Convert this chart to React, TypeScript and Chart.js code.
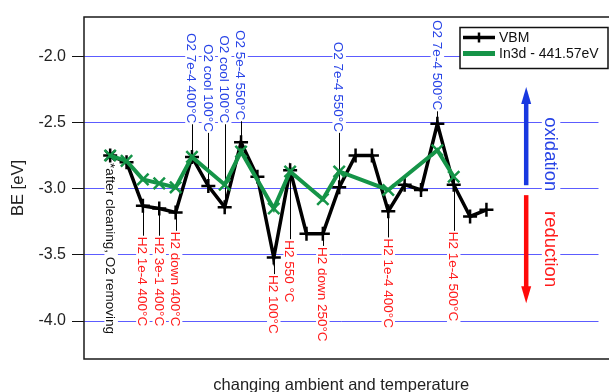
import React, { useEffect, useRef } from "react";
import { Chart, registerables } from "chart.js";

Chart.register(...registerables);

// ---- data ----
const stepIndex = [0, 1, 2, 3, 4, 5, 6, 7, 8, 9, 10, 11, 12, 13, 14, 15, 16, 17, 18, 19, 20, 21, 22, 23];
const vbmValues = [
  -2.75, -2.8, -3.13, -3.15, -3.18, -2.76, -2.98, -3.14, -2.65, -2.91, -3.52, -2.86,
  -3.34, -3.34, -2.99, -2.75, -2.75, -3.17, -2.97, -3.01, -2.51, -2.97, -3.21, -3.16,
];
const in3dValues: (number | null)[] = [
  -2.75, -2.79, -2.93, -2.96, -2.99, -2.76, null, -2.97, -2.72, null, -3.15, -2.87,
  null, -3.08, -2.87, null, null, -3.01, null, null, -2.71, -2.91, null, null,
];
const yTicks = [-2.0, -2.5, -3.0, -3.5, -4.0];
const seriesLabels = ["VBM", "In3d - 441.57eV"];
const xTitle = "changing ambient and temperature";
const yTitle = "BE [eV]";

// oxidation steps (labels above), anchor = BE where text ends
const o2Steps = [
  { idx: 5, text: "O2 7e-4 400°C", end: -2.506 },
  { idx: 6, text: "O2 cool 100°C", end: -2.571 },
  { idx: 7, text: "O2 cool 100°C", end: -2.506 },
  { idx: 8, text: "O2 5e-4 550°C", end: -2.483 },
  { idx: 14, text: "O2 7e-4 550°C", end: -2.571 },
  { idx: 20, text: "O2 7e-4 500°C", end: -2.408 },
];
// reduction steps (labels below), anchor = BE where text starts
const h2Steps = [
  { idx: 2, text: "H2 1e-4 400°C", start: -3.363 },
  { idx: 3, text: "H2 3e-1 400°C", start: -3.363 },
  { idx: 4, text: "H2 down 400°C", start: -3.326 },
  { idx: 10, text: "H2 100°C", start: -3.653 },
  { idx: 11, text: "H2 550 °C", start: -3.389 },
  { idx: 13, text: "H2 down 250°C", start: -3.44 },
  { idx: 17, text: "H2 1e-4 400°C", start: -3.376 },
  { idx: 21, text: "H2 1e-4 500°C", start: -3.326 },
];
const firstNote = { idx: 0, text: "*after cleaning, O2 removing", start: -2.806 };
const oxArrow = { x: 25.43, from: -2.974, to: -2.231, text: "oxidation", textX: 26.95, textY: -2.74 };
const redArrow = { x: 25.43, from: -3.049, to: -3.866, text: "reduction", textX: 26.95, textY: -3.457 };

const FONT = "'Liberation Sans', Arial, sans-serif";
const BLUE_TXT = "#2743e6";
const RED_TXT = "#ff1a1a";
const GREEN = "#159448";

function vtext(ctx: CanvasRenderingContext2D, text: string, x: number, y: number, align: "start" | "end" | "center", color: string, size: number, bg = true) {
  ctx.save();
  ctx.font = `${size}px ${FONT}`;
  const w = ctx.measureText(text).width;
  ctx.translate(x, y);
  ctx.rotate(Math.PI / 2);
  const x0 = align === "start" ? 0 : align === "end" ? -w : -w / 2;
  if (bg) {
    ctx.fillStyle = "#fff";
    ctx.fillRect(x0 - 1, -size / 2, w + 2, size);
  }
  ctx.fillStyle = color;
  ctx.textAlign = "left";
  ctx.textBaseline = "middle";
  ctx.fillText(text, x0, 1);
  ctx.restore();
}

function arrow(ctx: CanvasRenderingContext2D, x: number, y0: number, y1: number, color: string) {
  const dir = y1 < y0 ? -1 : 1;
  const headLen = 17;
  const headW = 5;
  ctx.save();
  ctx.strokeStyle = color;
  ctx.fillStyle = color;
  ctx.lineWidth = 4.5;
  ctx.beginPath();
  ctx.moveTo(x, y0);
  ctx.lineTo(x, y1 - dir * headLen + dir * 2);
  ctx.stroke();
  ctx.beginPath();
  ctx.moveTo(x, y1);
  ctx.lineTo(x - headW, y1 - dir * headLen);
  ctx.lineTo(x + headW, y1 - dir * headLen);
  ctx.closePath();
  ctx.fill();
  ctx.restore();
}

const decorPlugin = {
  id: "decor",
  beforeDatasetsDraw(chart: any) {
    const { ctx, chartArea, scales } = chart;
    const xs = scales.x;
    const ys = scales.y;
    ctx.save();
    // frame (left, top, bottom)
    ctx.strokeStyle = "#1a1a1a";
    ctx.lineWidth = 1.5;
    ctx.beginPath();
    ctx.moveTo(chart.width, chartArea.top);
    ctx.lineTo(chartArea.left, chartArea.top);
    ctx.lineTo(chartArea.left, chartArea.bottom);
    ctx.lineTo(chart.width, chartArea.bottom);
    ctx.stroke();

    // connectors
    ctx.strokeStyle = "#000";
    ctx.lineWidth = 1;
    o2Steps.forEach((s) => {
      const px = Math.round(xs.getPixelForValue(stepIndex[s.idx])) + 0.5;
      ctx.beginPath();
      ctx.moveTo(px, ys.getPixelForValue(s.end));
      ctx.lineTo(px, ys.getPixelForValue(vbmValues[s.idx]));
      ctx.stroke();
    });
    h2Steps.forEach((s) => {
      const px = Math.round(xs.getPixelForValue(stepIndex[s.idx])) + 0.5;
      ctx.beginPath();
      ctx.moveTo(px, ys.getPixelForValue(vbmValues[s.idx]));
      ctx.lineTo(px, ys.getPixelForValue(s.start));
      ctx.stroke();
    });
    // labels
    o2Steps.forEach((s) => {
      vtext(ctx, s.text, xs.getPixelForValue(stepIndex[s.idx]), ys.getPixelForValue(s.end), "end", BLUE_TXT, 13.5);
    });
    h2Steps.forEach((s) => {
      vtext(ctx, s.text, xs.getPixelForValue(stepIndex[s.idx]), ys.getPixelForValue(s.start), "start", RED_TXT, 13.5);
    });
    vtext(ctx, firstNote.text, xs.getPixelForValue(stepIndex[firstNote.idx]) + 1, ys.getPixelForValue(firstNote.start), "start", "#111", 13.5);

    // arrows
    arrow(ctx, xs.getPixelForValue(oxArrow.x), ys.getPixelForValue(oxArrow.from), ys.getPixelForValue(oxArrow.to), "#1838e0");
    arrow(ctx, xs.getPixelForValue(redArrow.x), ys.getPixelForValue(redArrow.from), ys.getPixelForValue(redArrow.to), "#ff0a0a");
    vtext(ctx, oxArrow.text, xs.getPixelForValue(oxArrow.textX), ys.getPixelForValue(oxArrow.textY), "center", BLUE_TXT, 18.5);
    vtext(ctx, redArrow.text, xs.getPixelForValue(redArrow.textX), ys.getPixelForValue(redArrow.textY), "center", RED_TXT, 18.5);

    // axis titles
    ctx.fillStyle = "#222";
    ctx.font = `16.5px ${FONT}`;
    ctx.textAlign = "center";
    ctx.textBaseline = "alphabetic";
    ctx.fillText(xTitle, (chartArea.left + chartArea.right) / 2, 390);
    ctx.save();
    ctx.translate(18, (chartArea.top + chartArea.bottom) / 2);
    ctx.rotate(-Math.PI / 2);
    ctx.textBaseline = "middle";
    ctx.fillText(yTitle, 0, 0);
    ctx.restore();
    ctx.restore();
  },
  afterDraw(chart: any) {
    const { ctx } = chart;
    ctx.save();
    const bx = 460, by = 27.5, bw = 148, bh = 41;
    ctx.fillStyle = "#fff";
    ctx.fillRect(bx, by, bw, bh);
    ctx.strokeStyle = "#111";
    ctx.lineWidth = 1.5;
    ctx.strokeRect(bx, by, bw, bh);
    // VBM sample
    const y1 = 37.5, y2 = 53.5;
    ctx.strokeStyle = "#000";
    ctx.lineWidth = 3.5;
    ctx.beginPath();
    ctx.moveTo(463, y1);
    ctx.lineTo(495, y1);
    ctx.stroke();
    ctx.lineWidth = 2.5;
    ctx.beginPath();
    ctx.moveTo(479, y1 - 5);
    ctx.lineTo(479, y1 + 5);
    ctx.stroke();
    // In3d sample
    ctx.strokeStyle = GREEN;
    ctx.lineWidth = 5;
    ctx.beginPath();
    ctx.moveTo(463, y2);
    ctx.lineTo(495, y2);
    ctx.stroke();
    ctx.fillStyle = "#111";
    ctx.font = `14px ${FONT}`;
    ctx.textAlign = "left";
    ctx.textBaseline = "middle";
    ctx.fillText(seriesLabels[0], 499, y1 + 1);
    ctx.fillText(seriesLabels[1], 499, y2 + 1);
    ctx.restore();
  },
};

export default function App() {
  const canvasRef = useRef<HTMLCanvasElement | null>(null);

  useEffect(() => {
    const canvas = canvasRef.current;
    if (!canvas) return;
    const vbmData = stepIndex.map((x, i) => ({ x, y: vbmValues[i] }));
    const in3dData = stepIndex
      .map((x, i) => ({ x, y: in3dValues[i] }))
      .filter((p) => p.y !== null) as { x: number; y: number }[];

    const chart = new Chart(canvas, {
      type: "line",
      data: {
        datasets: [
          {
            label: seriesLabels[0],
            data: vbmData,
            borderColor: "#000",
            backgroundColor: "#000",
            borderWidth: 3.5,
            pointStyle: vbmData.map((_, i) => (i === 0 ? "star" : "cross")) as any,
            pointRadius: 7,
            pointBorderWidth: 2.5,
            pointBorderColor: "#000",
            order: 1,
          },
          {
            label: seriesLabels[1],
            data: in3dData,
            borderColor: GREEN,
            backgroundColor: GREEN,
            borderWidth: 4,
            pointStyle: "crossRot",
            pointRadius: 8,
            pointBorderWidth: 2.5,
            pointBorderColor: GREEN,
            order: 0,
          },
        ],
      },
      options: {
        responsive: false,
        animation: false,
        layout: { padding: { top: 17, right: 7, left: 0, bottom: 0 } },
        plugins: { legend: { display: false }, tooltip: { enabled: false } },
        scales: {
          x: {
            type: "linear",
            min: -1.6,
            max: 29.85,
            grid: { display: false },
            ticks: { display: false },
            border: { display: false },
            afterFit(s: any) {
              s.height = 33;
            },
          },
          y: {
            type: "linear",
            min: -4.287,
            max: -1.703,
            afterBuildTicks(s: any) {
              s.ticks = yTicks.map((v) => ({ value: v }));
            },
            ticks: {
              font: { size: 16, family: FONT },
              color: "#222",
              padding: 6,
              callback: (v: any) => Number(v).toFixed(1),
            },
            grid: { color: "#5c5cff", lineWidth: 1, tickColor: "#111", tickLength: 12, drawTicks: true },
            border: { display: false },
            afterFit(s: any) {
              s.width = 84;
            },
          },
        },
      },
      plugins: [decorPlugin],
    });
    return () => chart.destroy();
  }, []);

  return (
    <div style={{ position: "absolute", left: 0, top: 0, width: 609, height: 392, background: "#fff" }}>
      <canvas ref={canvasRef} width={609} height={392} style={{ display: "block", width: 609, height: 392 }} />
    </div>
  );
}
